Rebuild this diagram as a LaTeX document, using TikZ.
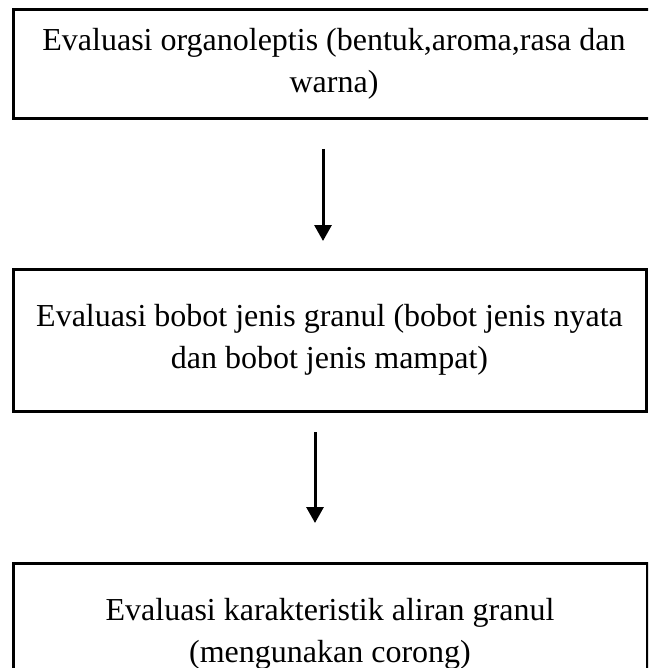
\documentclass[tikz,border=0pt]{standalone}
\usepackage{fontspec}
\setmainfont{Liberation Serif}
\usetikzlibrary{arrows.meta}
\begin{document}
\begin{tikzpicture}[x=1pt,y=-1pt,
  box/.style={draw=black, line width=3pt, rectangle, inner sep=0pt, align=center,
    font=\fontsize{32}{41.5}\selectfont},
  flow/.style={line width=3pt, -{Triangle[length=16pt,width=17pt]}}]
\useasboundingbox (0,0) rectangle (648,668);
\clip (0,0) rectangle (648,668);
\node[box, minimum width=642pt, minimum height=109pt] (b1) at (334,64)
  {Evaluasi organoleptis (bentuk,aroma,rasa dan\\warna)};
\node[box, minimum width=633pt, minimum height=142pt] (b2) at (329.5,340)
  {Evaluasi bobot jenis granul (bobot jenis nyata\\dan bobot jenis mampat)};
\node[box, minimum width=634pt, minimum height=142pt] (b3) at (330,634)
  {Evaluasi karakteristik aliran granul\\(mengunakan corong)};
\coordinate (a1s) at (323,149);
\coordinate (a1e) at (323,241);
\coordinate (a2s) at (315,432);
\coordinate (a2e) at (315,523);
\draw[flow] (a1s) -- (a1e);
\draw[flow] (a2s) -- (a2e);
\end{tikzpicture}
\end{document}
